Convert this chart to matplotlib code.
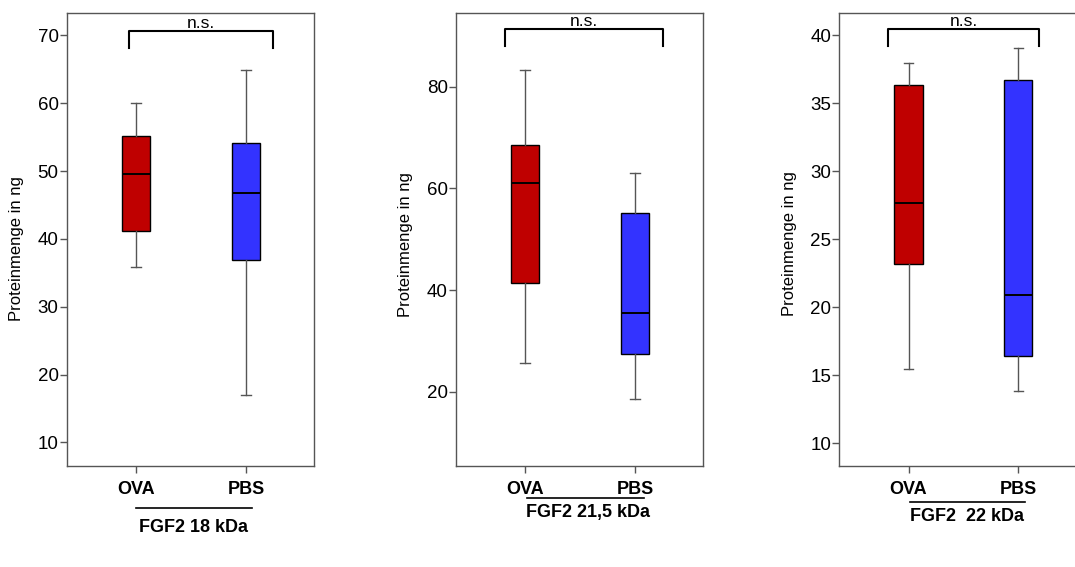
import matplotlib.pyplot as plt
from matplotlib.lines import Line2D

plt.rcParams['font.family'] = ['Liberation Sans', 'DejaVu Sans']

# --- Daten: (Whisker unten, Q1, Median, Q3, Whisker oben) ---
gruppen = ["OVA", "PBS"]
farben = ["#BF0000", "#3333FF"]

ova_18 = [35.9, 41.1, 49.5, 55.1, 60.0]
pbs_18 = [17.0, 36.9, 46.7, 54.1, 64.9]

ova_215 = [25.7, 41.5, 61.0, 68.6, 83.3]
pbs_215 = [18.5, 27.4, 35.6, 55.1, 63.0]

ova_22 = [15.5, 23.2, 27.7, 36.35, 38.0]
pbs_22 = [13.85, 16.4, 20.9, 36.75, 39.1]

titel = ["FGF2 18 kDa", "FGF2 21,5 kDa", "FGF2  22 kDa"]
y_ticks = [[10, 20, 30, 40, 50, 60, 70], [20, 40, 60, 80], [10, 15, 20, 25, 30, 35, 40]]
y_grenzen = [(6.5, 73.3), (5.4, 94.5), (8.33, 41.65)]

# Klammer "n.s." (x links, x rechts, y oben, y unten)
klammern = [(0.935, 2.245, 70.7, 68.2), (0.82, 2.254, 91.4, 88.1), (0.811, 2.19, 40.44, 39.24)]

# Layout je Panel: linker Rand, Unterstrich (x0, x1, y), Textposition (x, y), Label-y
panels = [
    dict(links=0.0623, strich=(0.279, 0.749, -0.093), text=(0.514, -0.135), label_y=0.48),
    dict(links=0.4242, strich=(0.287, 0.759, -0.071), text=(0.534, -0.102), label_y=0.488),
    dict(links=0.7808, strich=(0.285, 0.751, -0.080), text=(0.517, -0.112), label_y=0.492),
]

daten = [(ova_18, pbs_18), (ova_215, pbs_215), (ova_22, pbs_22)]

fig = plt.figure(figsize=(10.75, 5.67), dpi=100)
grau = "#555555"

for i, (werte, p) in enumerate(zip(daten, panels)):
    ax = fig.add_axes([p["links"], 0.178, 0.2298, 0.799])
    stats = []
    for name, w in zip(gruppen, werte):
        stats.append(dict(label=name, whislo=w[0], q1=w[1], med=w[2], q3=w[3], whishi=w[4], fliers=[]))
    bp = ax.bxp(stats, positions=[1, 2], widths=0.255, patch_artist=True, showfliers=False,
                boxprops=dict(edgecolor="black", linewidth=1.0),
                medianprops=dict(color="black", linewidth=1.4),
                whiskerprops=dict(color=grau, linewidth=1.0),
                capprops=dict(color=grau, linewidth=1.0),
                capwidths=0.09)
    for box, farbe in zip(bp["boxes"], farben):
        box.set_facecolor(farbe)

    ax.set_xlim(0.371, 2.618)
    ax.set_ylim(*y_grenzen[i])
    ax.set_yticks(y_ticks[i])
    ax.set_ylabel("Proteinmenge in ng", fontsize=12)
    ax.yaxis.set_label_coords(-0.173, p["label_y"])
    ax.set_xticks([1, 2])
    ax.set_xticklabels(gruppen, fontsize=13, fontweight="bold")
    ax.tick_params(axis="both", colors=grau, length=5, width=1.0, labelcolor="black")
    ax.tick_params(axis="y", pad=1, labelsize=13.5)
    ax.tick_params(axis="x", pad=6)
    for sp in ax.spines.values():
        sp.set_color(grau)
        sp.set_linewidth(1.0)

    # Signifikanzklammer
    x0, x1, yo, yu = klammern[i]
    ax.plot([x0, x0, x1, x1], [yu, yo, yo, yu], color="black", linewidth=1.5, clip_on=False)
    ax.text((x0 + x1) / 2, yo, "n.s.", ha="center", va="bottom", fontsize=12.5)

    # Gruppenbeschriftung unter der x-Achse
    s0, s1, sy = p["strich"]
    ax.add_line(Line2D([s0, s1], [sy, sy], transform=ax.transAxes, color="black",
                       linewidth=1.2, clip_on=False))
    ax.text(p["text"][0], p["text"][1], titel[i], transform=ax.transAxes, ha="center",
            va="center", fontsize=13, fontweight="bold")

fig.savefig("out.png", dpi=100)
